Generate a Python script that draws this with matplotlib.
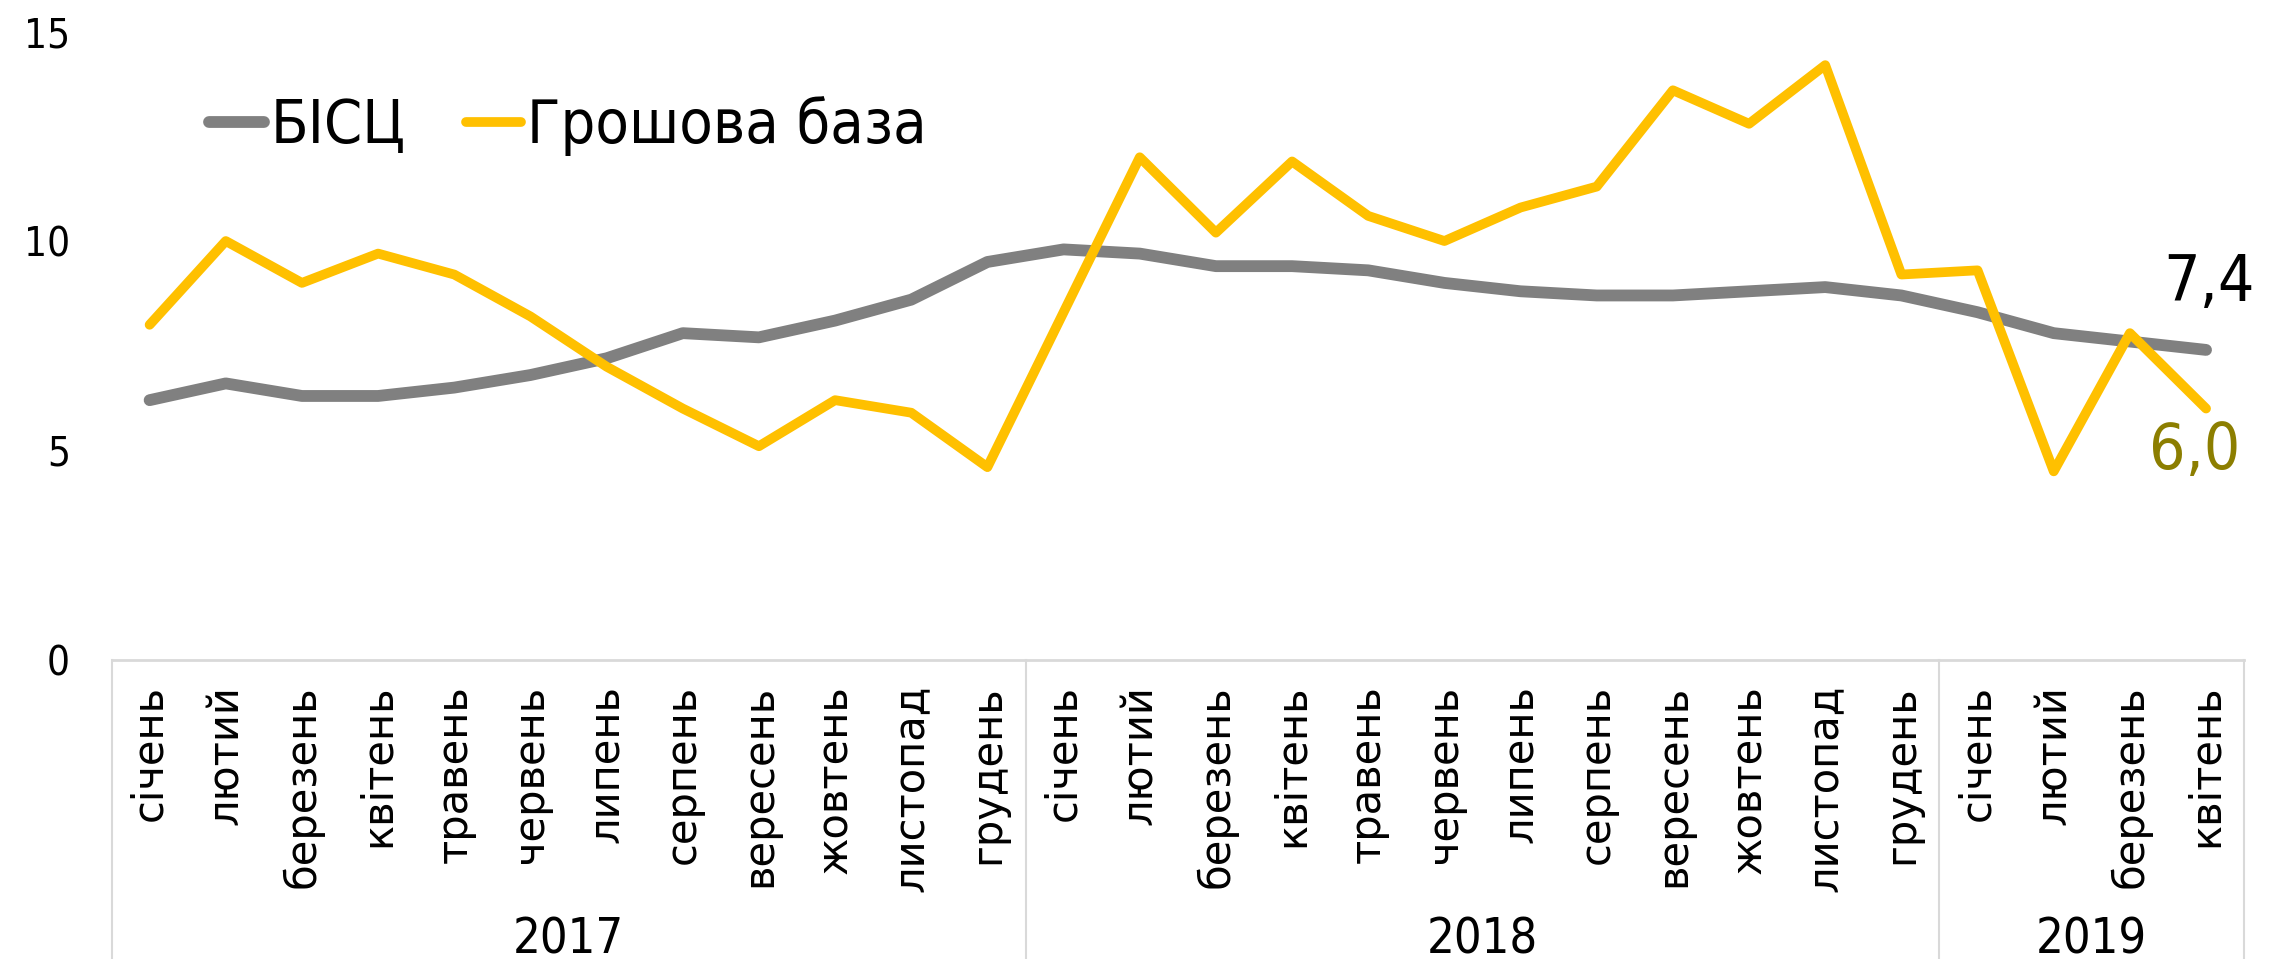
import matplotlib
matplotlib.use("Agg")
import matplotlib.pyplot as plt
from matplotlib import font_manager as fm

months = ["січень", "лютий", "березень", "квітень", "травень", "червень",
          "липень", "серпень", "вересень", "жовтень", "листопад", "грудень",
          "січень", "лютий", "березень", "квітень", "травень", "червень",
          "липень", "серпень", "вересень", "жовтень", "листопад", "грудень",
          "січень", "лютий", "березень", "квітень"]
years = ["2017", "2018", "2019"]
year_len = [12, 12, 4]

bisc = [6.2, 6.6, 6.3, 6.3, 6.5, 6.8, 7.2, 7.8, 7.7, 8.1, 8.6, 9.5,
        9.8, 9.7, 9.4, 9.4, 9.3, 9.0, 8.8, 8.7, 8.7, 8.8, 8.9, 8.7,
        8.3, 7.8, 7.6, 7.4]
base = [8.0, 10.0, 9.0, 9.7, 9.2, 8.2, 7.0, 6.0, 5.1, 6.2, 5.9, 4.6,
        8.3, 12.0, 10.2, 11.9, 10.6, 10.0, 10.8, 11.3, 13.6, 12.8, 14.2, 9.2,
        9.3, 4.5, 7.8, 6.0]


def narrow(size):
    return fm.FontProperties(family="DejaVu Sans", stretch="condensed", size=size)


fig = plt.figure(figsize=(22.76, 9.59), dpi=100)
ax = fig.add_axes([0.049, 0.312, 0.937, 0.655])

x = list(range(len(months)))
ax.plot(x, bisc, color="#808080", lw=8.5, label="БІСЦ", solid_capstyle="round")
ax.plot(x, base, color="#FFC000", lw=7, label="Грошова база", solid_capstyle="round")

ax.set_xlim(-0.5, len(months) - 0.5)
ax.set_ylim(0, 15)
ax.set_yticks([0, 5, 10, 15])
ax.set_yticklabels(["0", "5", "10", "15"], fontproperties=narrow(29))
ax.tick_params(axis="y", length=0, pad=30)

ax.set_xticks(x)
ax.set_xticklabels(months, rotation=90, fontsize=30, family="DejaVu Sans", va="top")
ax.tick_params(axis="x", length=0, pad=18)

for s in ["top", "right", "left"]:
    ax.spines[s].set_visible(False)
ax.spines["bottom"].set_color("#D9D9D9")
ax.spines["bottom"].set_linewidth(2)

# year group separators and labels
tr = ax.get_xaxis_transform()
bounds = [-0.5]
for n in year_len:
    bounds.append(bounds[-1] + n)
for b in bounds:
    ax.plot([b, b], [0, -0.48], color="#D9D9D9", lw=1.5, transform=tr, clip_on=False)
for i, y in enumerate(years):
    cx = (bounds[i] + bounds[i + 1]) / 2
    ax.text(cx, -0.445, y, transform=tr, ha="center", va="center",
            fontproperties=narrow(35))

ax.annotate("7,4", (x[-1], bisc[-1]), xytext=(2, 26), textcoords="offset points",
            ha="center", va="bottom", fontproperties=narrow(46), color="black")
ax.annotate("6,0", (x[-1], base[-1]), xytext=(-8, -8), textcoords="offset points",
            ha="center", va="top", fontproperties=narrow(46), color="#8C7E00")

leg = ax.legend(loc="upper left", bbox_to_anchor=(0.02, 0.985), ncol=2, frameon=False,
                prop=narrow(44), handlelength=0.9,
                handletextpad=0.1, columnspacing=1.0)

fig.savefig("out.png", dpi=100)
